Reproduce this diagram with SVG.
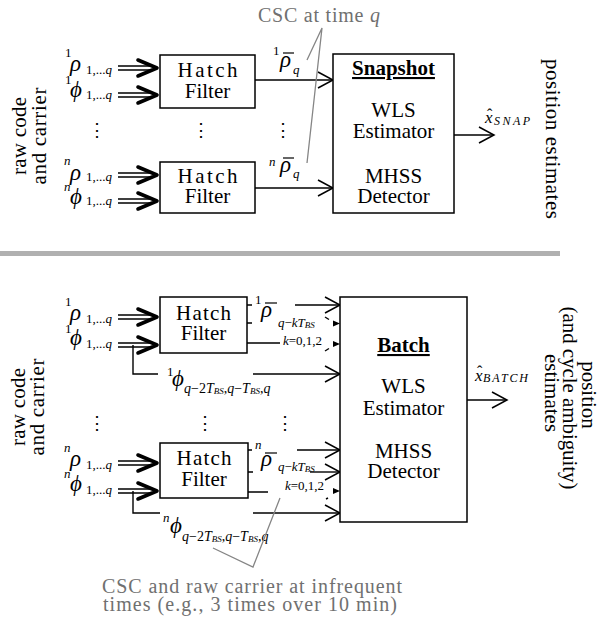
<svg xmlns="http://www.w3.org/2000/svg" width="602" height="622" viewBox="0 0 602 622">
<style>
.lb{font-size:21px;text-anchor:middle}
.hd{font-size:21px;font-weight:bold;text-anchor:middle;text-decoration:underline}
.it{font-style:italic}
.gr{fill:#707070;font-size:20px}
.sm{font-size:13px}
.s14{font-size:14px}
.bs{font-size:9px;font-style:italic}
.gk{font-size:23px;font-style:italic}
.xx{font-size:17px;font-style:italic}
.hat{font-size:16px}
.sub{font-size:12px;font-style:italic}
.dots{font-size:18px;text-anchor:middle}
.rot{font-size:21px;text-anchor:middle}
.box{fill:#fff;stroke:#000;stroke-width:1.5}
.ln{stroke:#000;stroke-width:1.4;fill:none}
.arr{stroke:#000;stroke-width:1.4;fill:none;marker-end:url(#ch)}
.gl{stroke:#858585;stroke-width:1.3;fill:none}
.bar{stroke:#000;stroke-width:1.2}
</style>
<defs>
<marker id="ch" markerUnits="userSpaceOnUse" markerWidth="18" markerHeight="18" refX="16" refY="9" orient="auto" viewBox="0 0 18 18">
<path d="M1,1 L16,9 L1,17" fill="none" stroke="#000" stroke-width="1.5"/>
</marker>
<g id="dbl">
<path d="M-41,-2 H-8 M-41,2 H-8" stroke="#000" stroke-width="1.3" fill="none"/>
<path d="M-21,-8 L-2,0 L-21,8" fill="none" stroke="#000" stroke-width="3.6" stroke-linejoin="round" stroke-linecap="round"/>
</g>
</defs>

<g id="left-label-top">
<text font-family="Liberation Serif" class="rot" transform="translate(26,136) rotate(-90)" textLength="78">raw code</text>
<text font-family="Liberation Serif" class="rot" transform="translate(46,136) rotate(-90)" textLength="97">and carrier</text>
</g>
<g id="left-label-bottom">
<text font-family="Liberation Serif" class="rot" transform="translate(25,407) rotate(-90)" textLength="78">raw code</text>
<text font-family="Liberation Serif" class="rot" transform="translate(44,407) rotate(-90)" textLength="97">and carrier</text>
</g>
<g id="right-label-top">
<text font-family="Liberation Serif" class="rot" transform="translate(546,139) rotate(90)" textLength="160">position estimates</text>
</g>
<g id="right-label-bottom">
<text font-family="Liberation Serif" class="rot" transform="translate(582,395) rotate(90)">position</text>
<text font-family="Liberation Serif" class="rot" transform="translate(563,398) rotate(90)" textLength="183">(and cycle ambiguity)</text>
<text font-family="Liberation Serif" class="rot" transform="translate(545,393) rotate(90)">estimates</text>
</g>

<line x1="0" y1="253.5" x2="560" y2="253.5" stroke="#b0b0b0" stroke-width="5"/>

<g id="connectors">
<use href="#dbl" x="159" y="68"/>
<use href="#dbl" x="159" y="95"/>
<use href="#dbl" x="159" y="175"/>
<use href="#dbl" x="159" y="201"/>
<line class="arr" x1="255" y1="80" x2="333" y2="80"/>
<line class="arr" x1="255" y1="188" x2="333" y2="188"/>
<line class="arr" x1="454" y1="135" x2="494" y2="135"/>

<use href="#dbl" x="159" y="317"/>
<use href="#dbl" x="159" y="345"/>
<use href="#dbl" x="159" y="463"/>
<use href="#dbl" x="159" y="491"/>
<path class="ln" d="M133,345 V374 H158"/>
<line class="arr" x1="253" y1="374" x2="340" y2="374"/>
<path class="ln" d="M133,491 V513 H160"/>
<line class="arr" x1="253" y1="513" x2="340" y2="513"/>

<path class="ln" d="M247,305 H252 M247,323 H252 M247,343 H280"/>
<line class="arr" x1="295" y1="305" x2="340" y2="305"/>
<path d="M333,320.5 L340,323.5 L333,326.5 Z" fill="#000"/>
<path class="ln" d="M325,317 L329,319.5"/>
<path d="M333,341 L340,344 L333,347 Z" fill="#000"/>
<path class="ln" d="M325,351 L329,348.5"/>

<path class="ln" d="M248,450 H252 M248,472 H253 M248,492 H268"/>
<line class="arr" x1="297" y1="450" x2="340" y2="450"/>
<line class="arr" x1="310" y1="472" x2="340" y2="472"/>
<path d="M333,488 L340,491 L333,494 Z" fill="#000"/>
<path class="ln" d="M326,499 L328,498"/>

<line class="arr" x1="467" y1="400" x2="507" y2="400"/>
</g>

<g id="hatch1">
<rect class="box" x="160" y="55" width="95" height="53"/>
<text font-family="Liberation Serif" class="lb" x="207.5" y="77" textLength="60">Hatch</text>
<text font-family="Liberation Serif" class="lb" x="207.5" y="98">Filter</text>
</g>
<g id="hatch2">
<rect class="box" x="160" y="162" width="95" height="51"/>
<text font-family="Liberation Serif" class="lb" x="207.5" y="183" textLength="60">Hatch</text>
<text font-family="Liberation Serif" class="lb" x="207.5" y="203">Filter</text>
</g>
<g id="snapshot">
<rect class="box" x="333" y="54" width="121" height="159"/>
<text font-family="Liberation Serif" class="hd" x="393.5" y="75">Snapshot</text>
<text font-family="Liberation Serif" class="lb" x="393.5" y="117">WLS</text>
<text font-family="Liberation Serif" class="lb" x="393.5" y="138">Estimator</text>
<text font-family="Liberation Serif" class="lb" x="393.5" y="183">MHSS</text>
<text font-family="Liberation Serif" class="lb" x="393.5" y="203">Detector</text>
</g>

<g id="hatch3">
<rect class="box" x="160" y="297" width="87" height="56"/>
<text font-family="Liberation Serif" class="lb" x="203.5" y="320" textLength="55">Hatch</text>
<text font-family="Liberation Serif" class="lb" x="203.5" y="340">Filter</text>
</g>
<g id="hatch4">
<rect class="box" x="160" y="443" width="88" height="55"/>
<text font-family="Liberation Serif" class="lb" x="204" y="465" textLength="55">Hatch</text>
<text font-family="Liberation Serif" class="lb" x="204" y="486">Filter</text>
</g>
<g id="batch">
<rect class="box" x="340" y="297" width="127" height="225"/>
<text font-family="Liberation Serif" class="hd" x="403.5" y="352">Batch</text>
<text font-family="Liberation Serif" class="lb" x="403.5" y="393">WLS</text>
<text font-family="Liberation Serif" class="lb" x="403.5" y="415">Estimator</text>
<text font-family="Liberation Serif" class="lb" x="403.5" y="458">MHSS</text>
<text font-family="Liberation Serif" class="lb" x="403.5" y="478">Detector</text>
</g>

<g id="inputs">
<text font-family="Liberation Serif" class="sm" x="65" y="57">1</text><text font-family="Liberation Serif" class="gk" x="70" y="71">ρ</text><text font-family="Liberation Serif" class="sm" x="86" y="74">1,...<tspan class="it">q</tspan></text>
<text font-family="Liberation Serif" class="sm" x="65" y="84">1</text><text font-family="Liberation Serif" class="gk" x="70" y="97">ϕ</text><text font-family="Liberation Serif" class="sm" x="86" y="99">1,...<tspan class="it">q</tspan></text>
<text font-family="Liberation Serif" class="sm it" x="64" y="165">n</text><text font-family="Liberation Serif" class="gk" x="70" y="180">ρ</text><text font-family="Liberation Serif" class="sm" x="86" y="181">1,...<tspan class="it">q</tspan></text>
<text font-family="Liberation Serif" class="sm it" x="64" y="191">n</text><text font-family="Liberation Serif" class="gk" x="70" y="204">ϕ</text><text font-family="Liberation Serif" class="sm" x="86" y="205">1,...<tspan class="it">q</tspan></text>

<text font-family="Liberation Serif" class="sm" x="65" y="306">1</text><text font-family="Liberation Serif" class="gk" x="70" y="320">ρ</text><text font-family="Liberation Serif" class="sm" x="86" y="323">1,...<tspan class="it">q</tspan></text>
<text font-family="Liberation Serif" class="sm" x="65" y="333">1</text><text font-family="Liberation Serif" class="gk" x="70" y="345">ϕ</text><text font-family="Liberation Serif" class="sm" x="86" y="348">1,...<tspan class="it">q</tspan></text>
<text font-family="Liberation Serif" class="sm it" x="64" y="452">n</text><text font-family="Liberation Serif" class="gk" x="70" y="466">ρ</text><text font-family="Liberation Serif" class="sm" x="86" y="469">1,...<tspan class="it">q</tspan></text>
<text font-family="Liberation Serif" class="sm it" x="64" y="478">n</text><text font-family="Liberation Serif" class="gk" x="70" y="491">ϕ</text><text font-family="Liberation Serif" class="sm" x="86" y="494">1,...<tspan class="it">q</tspan></text>
</g>

<g id="csc-top">
<text font-family="Liberation Serif" class="sm" x="273" y="55">1</text>
<line class="bar" x1="283" y1="53" x2="294" y2="53"/>
<text font-family="Liberation Serif" class="gk" x="280" y="67">ρ</text>
<text font-family="Liberation Serif" class="sm it" x="293" y="74">q</text>
<text font-family="Liberation Serif" class="sm it" x="269" y="166">n</text>
<line class="bar" x1="283" y1="158" x2="294" y2="158"/>
<text font-family="Liberation Serif" class="gk" x="280" y="172">ρ</text>
<text font-family="Liberation Serif" class="sm it" x="293" y="178">q</text>
</g>

<g id="csc-bottom">
<text font-family="Liberation Serif" class="sm" x="255" y="304">1</text>
<line class="bar" x1="265" y1="303" x2="277" y2="303"/>
<text font-family="Liberation Serif" class="gk" x="261" y="317">ρ</text>
<text font-family="Liberation Serif" class="sm" x="278" y="327"><tspan class="it">q</tspan>−<tspan class="it">kT</tspan><tspan class="bs" dy="1">BS</tspan></text>
<text font-family="Liberation Serif" class="sm" x="283" y="345"><tspan class="it">k</tspan>=0,1,2</text>

<text font-family="Liberation Serif" class="sm it" x="255" y="449">n</text>
<line class="bar" x1="265" y1="453" x2="277" y2="453"/>
<text font-family="Liberation Serif" class="gk" x="261" y="466">ρ</text>
<text font-family="Liberation Serif" class="sm" x="278" y="471"><tspan class="it">q</tspan>−<tspan class="it">kT</tspan><tspan class="bs" dy="1">BS</tspan></text>
<text font-family="Liberation Serif" class="sm" x="285" y="490"><tspan class="it">k</tspan>=0,1,2</text>

<text font-family="Liberation Serif" class="sm" x="167" y="376">1</text>
<text font-family="Liberation Serif" class="gk" x="172" y="386">ϕ</text>
<text font-family="Liberation Serif" class="s14" x="184" y="393"><tspan class="it">q</tspan>−2<tspan class="it">T</tspan><tspan class="bs" dy="1">BS</tspan><tspan dy="-1">,</tspan><tspan class="it">q</tspan>−<tspan class="it">T</tspan><tspan class="bs" dy="1">BS</tspan><tspan dy="-1">,</tspan><tspan class="it">q</tspan></text>
<text font-family="Liberation Serif" class="sm it" x="163" y="522">n</text>
<text font-family="Liberation Serif" class="gk" x="170" y="533">ϕ</text>
<text font-family="Liberation Serif" class="s14" x="182" y="541"><tspan class="it">q</tspan>−2<tspan class="it">T</tspan><tspan class="bs" dy="1">BS</tspan><tspan dy="-1">,</tspan><tspan class="it">q</tspan>−<tspan class="it">T</tspan><tspan class="bs" dy="1">BS</tspan><tspan dy="-1">,</tspan><tspan class="it">q</tspan></text>
</g>

<g id="out-snap">
<text font-family="Liberation Serif" class="xx" x="485" y="123">x</text>
<text font-family="Liberation Serif" class="hat" x="487" y="120">ˆ</text>
<text font-family="Liberation Serif" class="sub" x="494" y="125" textLength="36">SNAP</text>
</g>
<g id="out-batch">
<text font-family="Liberation Serif" class="xx" x="475" y="381">x</text>
<text font-family="Liberation Serif" class="hat" x="477" y="377">ˆ</text>
<text font-family="Liberation Serif" class="sub" x="483" y="382" textLength="45">BATCH</text>
</g>

<g id="dots">
<text font-family="Liberation Serif" class="dots" x="97" y="136">⋮</text>
<text font-family="Liberation Serif" class="dots" x="201" y="136">⋮</text>
<text font-family="Liberation Serif" class="dots" x="283" y="136">⋮</text>
<text font-family="Liberation Serif" class="dots" x="97" y="429">⋮</text>
<text font-family="Liberation Serif" class="dots" x="205" y="429">⋮</text>
<text font-family="Liberation Serif" class="dots" x="285" y="429">⋮</text>
</g>

<g id="annot-top">
<text font-family="Liberation Serif" class="gr" x="258" y="22" textLength="122">CSC at time <tspan class="it">q</tspan></text>
<path class="gl" d="M307,60 L322,28 L307,163"/>
</g>
<g id="annot-bottom">
<path class="gl" d="M213,548 L253,567 L280,498"/>
<text font-family="Liberation Serif" class="gr" x="102" y="593" textLength="300">CSC and raw carrier at infrequent</text>
<text font-family="Liberation Serif" class="gr" x="103" y="611" textLength="294">times (e.g., 3 times over 10 min)</text>
</g>
</svg>
